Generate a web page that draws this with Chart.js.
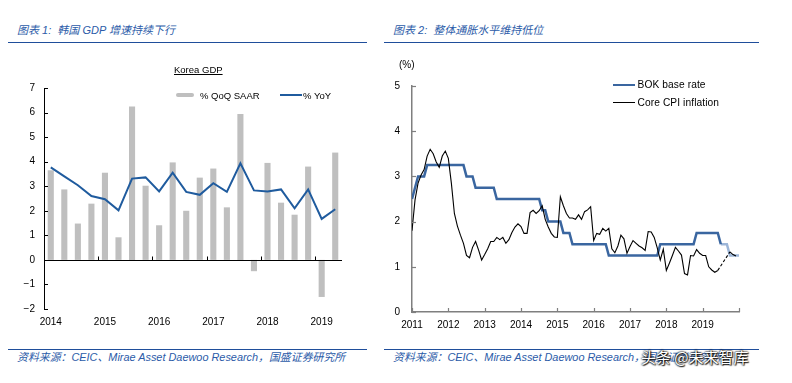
<!DOCTYPE html>
<html><head><meta charset="utf-8">
<script src="https://cdn.jsdelivr.net/npm/chart.js@4.4.1/dist/chart.umd.min.js"></script>
<style>
html,body{margin:0;padding:0;background:#fff;}
body{width:792px;height:383px;position:relative;overflow:hidden;font-family:"Liberation Sans",Arial,sans-serif;}
.abs{position:absolute;white-space:nowrap;line-height:1;}
.hdr{font-family:"Liberation Sans","Noto Sans CJK SC",sans-serif;font-style:italic;color:#2B5BA8;font-size:11px;}
.ftr{font-family:"Liberation Sans","Noto Sans CJK SC",sans-serif;font-style:italic;color:#2B5BA8;font-size:10.9px;}
.rule{position:absolute;height:1.5px;background:#1F4E9B;}
.lg{font-size:9.5px;color:#000;}
.lg2{font-size:10.2px;color:#000;letter-spacing:0.1px;}
canvas{position:absolute;top:0;}
</style></head>
<body>
<div class="abs hdr" style="left:17px;top:25px;">图表 1:&nbsp; 韩国 GDP 增速持续下行</div>
<div class="rule" style="left:8px;top:41.5px;width:359px;"></div>
<div class="abs hdr" style="left:393px;top:25px;">图表 2:&nbsp; 整体通胀水平维持低位</div>
<div class="rule" style="left:384px;top:41.5px;width:375px;"></div>

<canvas id="c1" width="380" height="345" style="left:0;"></canvas>
<canvas id="c2" width="408" height="345" style="left:384px;"></canvas>

<div class="abs lg" style="left:174px;top:64.5px;text-decoration:underline;">Korea GDP</div>
<div class="abs" style="left:176px;top:92.8px;width:18px;height:4.5px;background:#BFBFBF;border-radius:2px;"></div>
<div class="abs lg" style="left:200px;top:90.5px;">% QoQ SAAR</div>
<div class="abs" style="left:280px;top:94px;width:22px;height:2px;background:#1F5B9E;"></div>
<div class="abs lg" style="left:303px;top:90.5px;">% YoY</div>

<div class="abs" style="left:399px;top:60px;font-size:10px;">(%)</div>
<div class="abs" style="left:613px;top:83.8px;width:22px;height:2.5px;background:#3A66A0;"></div>
<div class="abs lg2" style="left:637.5px;top:80px;">BOK base rate</div>
<div class="abs" style="left:613px;top:102.2px;width:22px;height:1px;background:#000;"></div>
<div class="abs lg2" style="left:637.5px;top:97.7px;">Core CPI inflation</div>

<div class="rule" style="left:8px;top:348.5px;width:359px;"></div>
<div class="abs ftr" style="left:17px;top:352px;">资料来源：CEIC、Mirae Asset Daewoo Research，国盛证券研究所</div>
<div class="rule" style="left:384px;top:348.5px;width:375px;"></div>
<div class="abs ftr" style="left:393px;top:352px;">资料来源：CEIC、Mirae Asset Daewoo Research，国盛证券研究所</div>
<div class="abs" style="left:641px;top:349px;font-family:'Noto Sans CJK SC',sans-serif;font-size:15px;color:#fff;text-shadow:0 0 2px #000,0 0 2px #000,1px 1px 1px #333;">头条 @未来智库</div>

<script>
// ---------- Chart 1: Korea GDP ----------
const quarters = ['2014Q1','2014Q2','2014Q3','2014Q4','2015Q1','2015Q2','2015Q3','2015Q4',
  '2016Q1','2016Q2','2016Q3','2016Q4','2017Q1','2017Q2','2017Q3','2017Q4',
  '2018Q1','2018Q2','2018Q3','2018Q4','2019Q1','2019Q2'];
const qoqSaar = [3.65, 2.87, 1.48, 2.29, 3.55, 0.92, 6.25, 3.02, 1.41, 3.97, 2.00, 3.35,
  3.72, 2.14, 5.94, -0.46, 3.95, 2.33, 1.84, 3.80, -1.51, 4.37];
const yoy = [3.77, 3.40, 3.04, 2.60, 2.47, 2.02, 3.31, 3.36, 2.79, 3.55, 2.77, 2.65,
  3.12, 2.77, 3.93, 2.83, 2.79, 2.87, 2.10, 2.87, 1.67, 2.06];
const gdpTicks = [-2, -1, 0, 1, 2, 3, 4, 5, 6, 7];

// ---------- Chart 2: BOK rate & core CPI (monthly from Jan 2011) ----------
const yearLabels = ['2011','2012','2013','2014','2015','2016','2017','2018','2019'];
const bokRate = [2.5, 2.75, 3.0, 3.0, 3.0,
  3.25,3.25,3.25,3.25,3.25,3.25,3.25,3.25,3.25,3.25,3.25,3.25,3.25,
  3.0,3.0,3.0,
  2.75,2.75,2.75,2.75,2.75,2.75,2.75,
  2.5,2.5,2.5,2.5,2.5,2.5,2.5,2.5,2.5,2.5,2.5,2.5,2.5,2.5,2.5,
  2.25,2.25,
  2.0,2.0,2.0,2.0,2.0,
  1.75,1.75,1.75,
  1.5,1.5,1.5,1.5,1.5,1.5,1.5,1.5,1.5,1.5,1.5,1.5,
  1.25,1.25,1.25,1.25,1.25,1.25,1.25,1.25,1.25,1.25,1.25,1.25,1.25,1.25,1.25,1.25,1.25,
  1.5,1.5,1.5,1.5,1.5,1.5,1.5,1.5,1.5,1.5,1.5,1.5,
  1.75,1.75,1.75,1.75,1.75,1.75,1.75,1.75,
  1.5,1.5,1.5,
  1.25,1.25,1.25,1.25];
const bokSolidEnd = 102; // month index where lighter (projected) segment begins
const coreCpi = [1.80, 2.48, 2.85, 3.03, 3.15, 3.45, 3.60, 3.50, 3.32, 3.20, 3.45, 3.56,
  3.40, 2.85, 2.18, 1.90, 1.70, 1.52, 1.25, 1.20, 1.43, 1.56, 1.37, 1.15,
  1.27, 1.40, 1.56, 1.56, 1.65, 1.60, 1.65, 1.52, 1.60, 1.76, 1.88, 1.95,
  1.89, 1.74, 1.74, 2.20, 2.25, 2.18, 2.24, 2.35, 2.05, 1.88, 1.74, 1.66,
  1.65, 2.55, 2.35, 2.18, 2.08, 2.08, 2.05, 2.15, 2.05, 2.22, 2.26, 2.33,
  1.58, 1.74, 1.72, 1.85, 1.79, 1.85, 1.40, 1.31, 1.46, 1.70, 1.62, 1.30,
  1.45, 1.58, 1.52, 1.46, 1.42, 1.36, 1.78, 1.77, 1.65, 1.42, 1.15, 1.39,
  0.92, 1.08, 1.25, 1.43, 1.35, 1.26, 0.85, 0.82, 1.25, 1.24, 1.38, 1.30,
  1.25, 1.25, 1.00, 0.93, 0.88, 0.92];
const cpiDashMonths = [101, 105];
const cpiDash = [0.92, 1.33];
const cpiTailMonths = [105, 106, 107];
const cpiTail = [1.33, 1.27, 1.24];

const FONT = "'Liberation Sans', Arial, sans-serif";

const decor = {
  id: 'decor',
  afterDatasetsDraw(chart, args, o) {
    const ctx = chart.ctx, ca = chart.chartArea;
    const xs = chart.scales.x, ys = chart.scales.y;
    ctx.save();
    ctx.strokeStyle = o.color; ctx.lineWidth = o.width;
    ys.ticks.forEach((t, i) => {
      const py = Math.round(ys.getPixelForTick(i)) + 0.5;
      ctx.beginPath(); ctx.moveTo(ca.left, py); ctx.lineTo(ca.left + o.len, py); ctx.stroke();
    });
    if (o.zeroLine) {
      const y0 = Math.round(ys.getPixelForValue(0)) + 0.5;
      ctx.beginPath(); ctx.moveTo(ca.left, y0); ctx.lineTo(ca.right, y0); ctx.stroke();
      for (let i = 4; i < quarters.length; i += 4) {
        const px = Math.round((xs.getPixelForValue(i - 1) + xs.getPixelForValue(i)) / 2) + 0.5;
        ctx.beginPath(); ctx.moveTo(px, y0); ctx.lineTo(px, y0 - o.len); ctx.stroke();
      }
    } else {
      xs.ticks.forEach((t, i) => {
        const px = Math.round(xs.getPixelForTick(i)) + 0.5;
        ctx.beginPath(); ctx.moveTo(px, ca.bottom); ctx.lineTo(px, ca.bottom - o.len); ctx.stroke();
      });
    }
    ctx.restore();
  }
};

new Chart(document.getElementById('c1'), {
  type: 'bar',
  data: {
    labels: quarters,
    datasets: [
      { type: 'line', label: '% YoY', data: yoy, borderColor: '#1F5B9E', borderWidth: 2,
        pointRadius: 0, tension: 0, fill: false, order: 0 },
      { type: 'bar', label: '% QoQ SAAR', data: qoqSaar, backgroundColor: '#BFBFBF',
        barPercentage: 0.45, categoryPercentage: 1, order: 1 }
    ]
  },
  options: {
    responsive: false, animation: false, devicePixelRatio: 1,
    layout: { padding: { left: 0, right: 38, top: 88, bottom: 0 } },
    plugins: { legend: { display: false }, tooltip: { enabled: false },
      decor: { color: '#000', width: 1, len: 4, zeroLine: true } },
    scales: {
      x: {
        grid: { display: false, drawTicks: false }, border: { display: false },
        ticks: { autoSkip: false, maxRotation: 0, padding: 7, color: '#000',
          font: { family: FONT, size: 10 },
          callback: (v, i) => quarters[i].endsWith('Q1') ? quarters[i].slice(0, 4) : '' },
        afterFit: s => { s.height = 36; }
      },
      y: {
        min: -2, max: 7,
        afterBuildTicks: s => { s.ticks = gdpTicks.map(v => ({ value: v })); },
        grid: { display: false, drawTicks: false },
        border: { display: true, color: '#000', width: 1 },
        ticks: { padding: 9, color: '#000', font: { family: FONT, size: 10 },
          callback: v => v < 0 ? '\u2212' + Math.abs(v) : String(v) },
        afterFit: s => { s.width = 44; }
      }
    }
  },
  plugins: [decor]
});

const bokSolid = bokRate.slice(0, bokSolidEnd + 1).map((v, i) => ({ x: i, y: v }));
const bokLight = bokRate.map((v, i) => ({ x: i, y: v })).filter(p => p.x >= bokSolidEnd);

new Chart(document.getElementById('c2'), {
  type: 'line',
  data: {
    datasets: [
      { label: 'Core CPI inflation', data: coreCpi.map((v, i) => ({ x: i, y: v })),
        borderColor: '#000', borderWidth: 1.1, pointRadius: 0, tension: 0 },
      { label: 'cpi-dash', data: cpiDashMonths.map((m, i) => ({ x: m, y: cpiDash[i] })),
        borderColor: '#000', borderWidth: 1.1, borderDash: [3, 2], pointRadius: 0, tension: 0 },
      { label: 'cpi-tail', data: cpiTailMonths.map((m, i) => ({ x: m, y: cpiTail[i] })),
        borderColor: '#000', borderWidth: 1.1, pointRadius: 0, tension: 0 },
      { label: 'BOK base rate', data: bokSolid, borderColor: '#3A66A0', borderWidth: 2.5,
        pointRadius: 0, tension: 0 },
      { label: 'BOK projected', data: bokLight, borderColor: '#9DB6D8', borderWidth: 2.5,
        pointRadius: 0, tension: 0 }
    ]
  },
  options: {
    responsive: false, animation: false, devicePixelRatio: 1,
    layout: { padding: { left: 0, right: 53, top: 86, bottom: 0 } },
    plugins: { legend: { display: false }, tooltip: { enabled: false },
      decor: { color: '#7F7F7F', width: 1.2, len: 4, zeroLine: false } },
    scales: {
      x: {
        type: 'linear', min: 0, max: 108,
        ticks: { stepSize: 12, maxRotation: 0, autoSkip: false, padding: 7, color: '#000',
          font: { family: FONT, size: 10 },
          callback: v => yearLabels[v / 12] || '' },
        grid: { display: false, drawTicks: false },
        border: { display: true, color: '#7F7F7F', width: 1.5 },
        afterFit: s => { s.height = 33; }
      },
      y: {
        min: 0, max: 5,
        ticks: { stepSize: 1, padding: 12, color: '#000', font: { family: FONT, size: 10 } },
        grid: { display: false, drawTicks: false },
        border: { display: true, color: '#7F7F7F', width: 1.5 },
        afterFit: s => { s.width = 28; }
      }
    }
  },
  plugins: [decor]
});
</script>
</body></html>
